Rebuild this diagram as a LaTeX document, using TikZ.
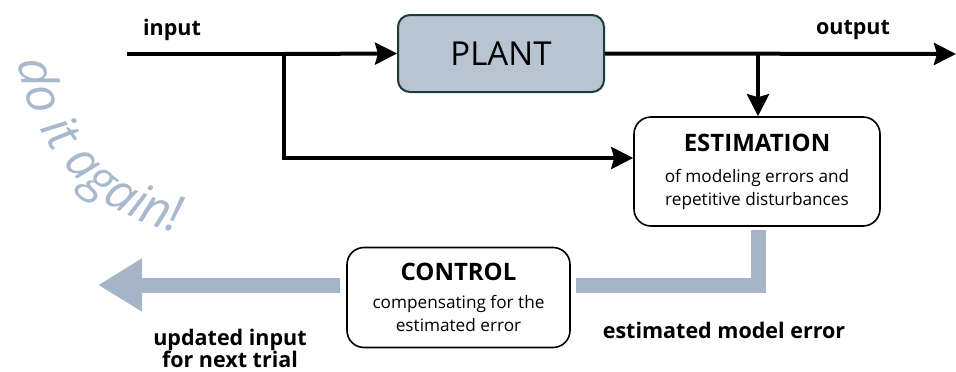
\documentclass[tikz,border=0pt]{standalone}
\usepackage{fontspec}
\setmainfont{Open Sans}
\usetikzlibrary{arrows.meta,decorations.text,calc}
\definecolor{plantfill}{HTML}{B8C4D2}
\definecolor{plantdraw}{HTML}{1C3C3C}
\definecolor{band}{HTML}{A6B4C8}
\definecolor{againcol}{HTML}{A9B9CD}
\begin{document}
\begin{tikzpicture}[x=1pt,y=1pt,
  sig/.style={line width=4pt,-{Stealth[length=22pt,width=22pt,inset=3pt]}},
  sigline/.style={line width=4pt},
  blk/.style={draw,line width=1.6pt,rounded corners=17pt,align=center,inner sep=0pt,font=\fontsize{17.2}{22.5}\selectfont},
  fb/.style={line width=15pt,draw=band},
  lbl/.style={font=\fontsize{21.5}{22}\selectfont\bfseries,align=center,inner sep=0pt}]
\useasboundingbox (0,0) rectangle (956,-372);

\node[draw=plantdraw,fill=plantfill,line width=2pt,rounded corners=12pt,minimum width=206pt,minimum height=77pt,font=\fontsize{33}{36}\selectfont] (plant) at (501,-53.5) {PLANT};

\node[blk,minimum width=246pt,minimum height=109pt] (est) at (757,-171.5)
  {{\fontsize{24}{24}\selectfont\bfseries ESTIMATION}\\[9pt]of modeling errors and\\repetitive disturbances};
\node[blk,minimum width=223pt,minimum height=100pt] (ctrl) at (458.5,-297.5)
  {{\fontsize{24}{24}\selectfont\bfseries CONTROL}\\[5.5pt]compensating for the\\estimated error};

\node[lbl] (lin) at (172,-30) {input};
\node[lbl] (lout) at (853,-30) {output};
\node[lbl] (lupd) at (230,-348) {updated input\\for next trial};
\node[lbl] (lerr) at (724,-330) {estimated model error};

\coordinate (in) at (127,-54);
\coordinate (s1) at (284,-54);
\coordinate (s2) at (758,-54);
\coordinate (out) at (956,-54);
\coordinate (c1) at (284,-158);

\draw[sigline] (in) -- (s1);
\draw[sig] (s1) -- (plant.west);
\draw[sig] (plant.east) -- (out);
\draw[sig] (s2) -- (s2 |- est.north);
\draw[sig] (s1) -- (c1) -- (c1 -| est.west);

\coordinate (e1) at (758,-230);
\coordinate (e2) at (758,-285);
\coordinate (b1) at (576,-285);
\coordinate (b2) at (340,-285);
\coordinate (tip) at (98,-285);
\draw[fb] (e1) -- (e2) -- (b1);
\draw[fb,-{Triangle[length=44pt,width=50pt]}] (b2) -- (tip);

\path[decorate,decoration={text along path,
  text={|\fontsize{50}{50}\selectfont\itshape|do it again!},
  text align=center,text color=againcol}]
  (16.1,-41.1) arc[start angle=182,end angle=264,radius=203];
\end{tikzpicture}
\end{document}
